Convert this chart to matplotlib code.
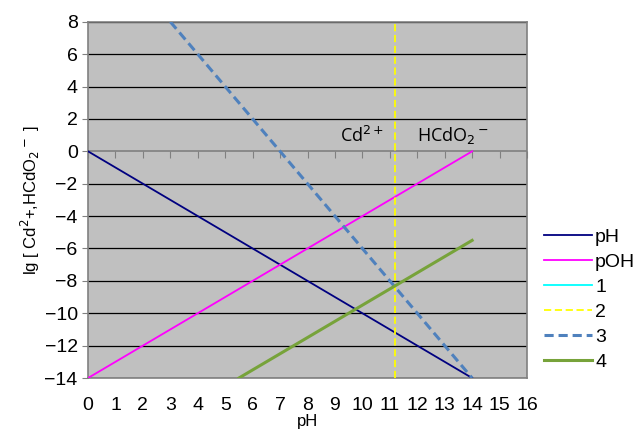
import numpy as np
import matplotlib.pyplot as plt

plt.rcParams['font.family'] = ['Liberation Sans', 'DejaVu Sans']

# pH range and lines of the diagram
ph_x = [0, 14]
ph_y = [0, -14]
poh_x = [0, 14]
poh_y = [-14, 0]
l1_x = []
l1_y = []
l2_x = [11.2, 11.2]
l2_y = [-14, 8]
l3_x = [3, 14]
l3_y = [8, -14]
l4_x = [5.5, 14]
l4_y = [-14, -5.5]

xticks = list(range(0, 17))
yticks = list(range(-14, 9, 2))

fig = plt.figure(figsize=(6.38, 4.36), dpi=100)
ax = fig.add_axes([0.138, 0.133, 0.688, 0.817])
ax.set_facecolor('#c0c0c0')

for y in yticks:
    if y != 0:
        ax.axhline(y, color='black', lw=0.9, zorder=1)
ax.axhline(0, color='#808080', lw=1.2, zorder=1)

ax.plot(ph_x, ph_y, color='#000080', lw=1.3, label='pH', zorder=3)
ax.plot(poh_x, poh_y, color='#ff00ff', lw=1.3, label='pOH', zorder=3)
ax.plot(l1_x, l1_y, color='#00ffff', lw=1.3, label='1', zorder=3)
ax.plot(l2_x, l2_y, color='#ffff00', lw=1.3, ls=(0, (4, 2)), label='2', zorder=3)
ax.plot(l3_x, l3_y, color='#4f81bd', lw=2.2, ls=(0, (3, 1.6)), label='3', zorder=3)
ax.plot(l4_x, l4_y, color='#77a33a', lw=2.2, label='4', zorder=3)

ax.text(10.0, 0.3, r'Cd$^{2+}$', fontsize=13, ha='center', va='bottom',
        family=['Open Sans', 'DejaVu Sans'])
ax.text(13.3, 0.3, r'HCdO$_2$$^-$', fontsize=13, ha='center', va='bottom',
        family=['Open Sans', 'DejaVu Sans'])

ax.set_xlim(0, 16)
ax.set_ylim(-14, 8)
ax.set_xticks(xticks)
ax.set_yticks(yticks)
ax.tick_params(axis='x', length=0, labelsize=14, pad=14)
ax.tick_params(axis='y', length=4, labelsize=14, color='#808080')
for s in ax.spines.values():
    s.set_color('#808080')
    s.set_linewidth(1.2)

sec = ax.secondary_xaxis(0, transform=ax.transData)
sec.set_xticks(xticks)
sec.tick_params(axis='x', length=5, direction='out', color='#808080', labelbottom=False)
sec.spines['bottom'].set_visible(False)

ax.set_xlabel('pH', fontsize=12, labelpad=0)
ax.set_ylabel(r'lg [ Cd$^2$+,HCdO$_2$$^-$ ]', fontsize=12, labelpad=2)

ax.legend(loc='center left', bbox_to_anchor=(1.02, 0.22), frameon=False,
          fontsize=14, handlelength=2.5, labelspacing=0.38, handletextpad=0.15,
          borderaxespad=0)

fig.savefig('out.png', dpi=100)
